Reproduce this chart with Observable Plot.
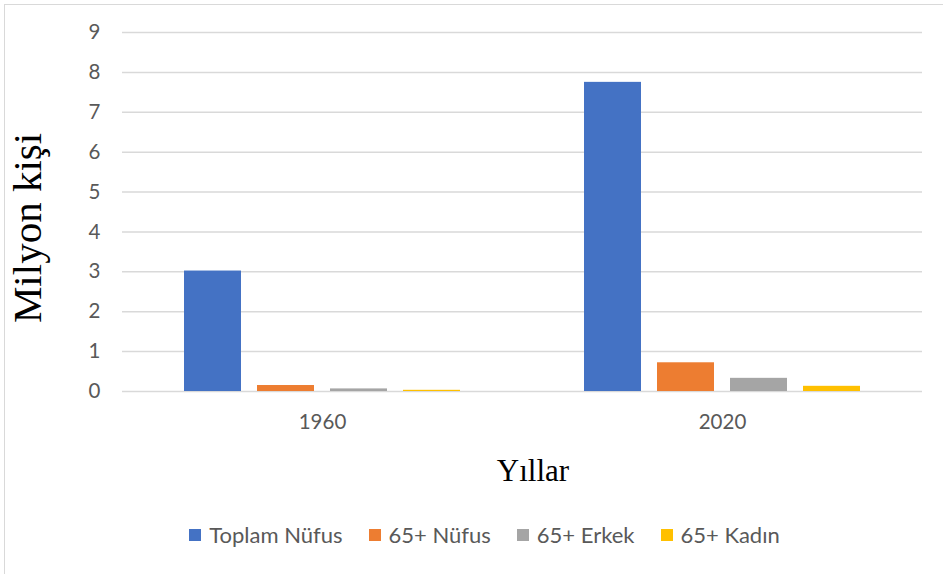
<!DOCTYPE html>
<html>
<head>
<meta charset="utf-8">
<script src="https://cdn.jsdelivr.net/npm/d3@7"></script>
<script src="https://cdn.jsdelivr.net/npm/@observablehq/plot@0.6"></script>
<style>
  html, body { margin: 0; padding: 0; background: #fff; }
  #wrap { position: relative; width: 943px; height: 574px; overflow: hidden; }
  #wrap::before { content: ""; position: absolute; left: 4px; top: 4px; right: -10px; bottom: -10px; border-left: 1px solid #d9d9d9; border-top: 1px solid #d9d9d9; pointer-events: none; }
  #legend { display: flex; justify-content: center; align-items: center; font-family: Lato, "Noto Sans", sans-serif; font-size: 22px; color: #595959; height: 69px; margin-top: -5px; padding-left: 26px; }
  .item { display: flex; align-items: center; margin: 0 13px; }
  .sw { width: 12px; height: 12px; margin-right: 8px; }
  #chart svg text { font-size: 20.5px; }
</style>
</head>
<body>
<div id="wrap">
  <div id="chart"></div>
  <div id="legend"></div>
</div>
<script>
const years = ["1960", "2020"];
const series = ["Toplam Nüfus", "65+ Nüfus", "65+ Erkek", "65+ Kadın"];
const colors = ["#4472C4", "#ED7D31", "#A5A5A5", "#FFC000"];
const values1960 = [3.02, 0.15, 0.065, 0.03];
const values2020 = [7.75, 0.72, 0.33, 0.13];
const yTicks = [0, 1, 2, 3, 4, 5, 6, 7, 8, 9];

const data = [];
series.forEach((s, i) => {
  data.push({year: years[0], series: s, value: values1960[i]});
  data.push({year: years[1], series: s, value: values2020[i]});
});

const plot = Plot.plot({
  width: 943,
  height: 505,
  marginLeft: 122,
  marginRight: 21,
  marginTop: 32,
  marginBottom: 114,
  style: {fontFamily: 'Lato, "Noto Sans", sans-serif', fontSize: "20px", color: "#595959", background: "transparent"},
  fx: {domain: years, padding: 0, label: null, tickSize: 0, tickPadding: 23},
  x: {domain: series, paddingInner: 0.219, paddingOuter: 0.849, axis: null},
  y: {domain: [0, 9], ticks: yTicks, tickSize: 0, tickPadding: 22, label: null},
  color: {domain: series, range: colors},
  marks: [
    Plot.ruleY(yTicks, {stroke: "#d9d9d9", strokeWidth: 1.5}),
    Plot.barY(data, {fx: "year", x: "series", y: "value", fill: "series"})
  ]
});
document.getElementById("chart").appendChild(plot);

const svg = d3.select(plot);
svg.append("text")
  .attr("transform", "translate(41,228) rotate(-90)")
  .attr("text-anchor", "middle")
  .attr("font-family", '"Liberation Serif", "Times New Roman", serif')
  .style("font-size", "41px")
  .attr("fill", "#000")
  .text("Milyon kişi");
svg.append("text")
  .attr("x", 533)
  .attr("y", 481)
  .attr("text-anchor", "middle")
  .attr("font-family", '"Liberation Serif", "Times New Roman", serif')
  .style("font-size", "31px")
  .attr("fill", "#000")
  .text("Yıllar");

const legend = d3.select("#legend");
series.forEach((s, i) => {
  const it = legend.append("div").attr("class", "item");
  it.append("div").attr("class", "sw").style("background", colors[i]);
  it.append("span").text(s);
});
</script>
</body>
</html>
